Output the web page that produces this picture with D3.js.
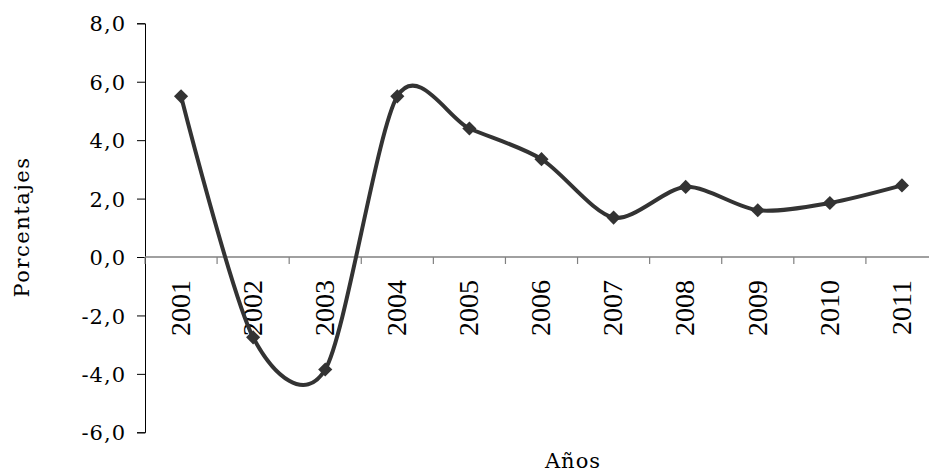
<!DOCTYPE html>
<html>
<head>
<meta charset="utf-8">
<script src="https://cdn.jsdelivr.net/npm/d3@7"></script>
<style>
  html, body { margin: 0; padding: 0; background: #fff; }
  svg { display: block; }
</style>
</head>
<body>
<svg id="chart" width="929" height="472"></svg>
<script>
const years = ["2001","2002","2003","2004","2005","2006","2007","2008","2009","2010","2011"];
const values = [5.5, -2.75, -3.85, 5.5, 4.4, 3.35, 1.35, 2.4, 1.6, 1.85, 2.45];
const yTicks = [-6, -4, -2, 0, 2, 4, 6, 8];
const yTitle = "Porcentajes";
const xTitle = "Años";

const svg = d3.select("#chart");
const x = d3.scaleBand().domain(years).range([145, 938]).padding(0);
const y = d3.scaleLinear().domain([-6, 8]).range([432.3, 23.3]);
const fmt = v => d3.format(".1f")(v).replace(".", ",").replace("−", "-");

// Y axis
const yAxis = d3.axisLeft(y).tickValues(yTicks).tickSize(8).tickPadding(0).tickFormat(fmt);
const gy = svg.append("g").attr("transform", "translate(145,0)").call(yAxis);
gy.select(".domain").attr("stroke", "#000").attr("stroke-width", 1);
gy.selectAll(".tick line").attr("stroke", "#000");
gy.selectAll(".tick text")
  .attr("x", -19)
  .attr("dy", "0.36em")
  .attr("font-family", "DejaVu Serif")
  .attr("font-size", 21)
  .attr("letter-spacing", 1)
  .attr("fill", "#000");

// X axis along zero line
const gx = svg.append("g").attr("transform", `translate(0,${y(0)})`);
gx.append("line")
  .attr("x1", 145).attr("x2", 938)
  .attr("stroke", "#808080").attr("stroke-width", 1.5);
const boundaries = years.map(d => x(d)).concat([x.range()[1]]);
gx.selectAll("line.tk").data(boundaries).join("line")
  .attr("class", "tk")
  .attr("x1", d => d).attr("x2", d => d)
  .attr("y1", 0).attr("y2", 7)
  .attr("stroke", "#808080").attr("stroke-width", 1.2);
gx.selectAll("text.yr").data(years).join("text")
  .attr("class", "yr")
  .attr("transform", d => `translate(${x(d) + x.bandwidth() / 2 - 1},${23}) rotate(-90)`)
  .attr("text-anchor", "end")
  .attr("dy", "0.35em")
  .attr("font-family", "Liberation Serif")
  .attr("font-size", 28)
  .attr("fill", "#000")
  .text(d => d);

// Line
const line = d3.line()
  .x((d, i) => x(years[i]) + x.bandwidth() / 2)
  .y(d => y(d))
  .curve(d3.curveCardinal.tension(0.15));
svg.append("path")
  .datum(values)
  .attr("d", line)
  .attr("fill", "none")
  .attr("stroke", "#333333")
  .attr("stroke-width", 4)
  .attr("stroke-linejoin", "round");

// Markers (diamonds)
const diamond = d3.symbol().type(d3.symbolSquare).size(100);
svg.selectAll("path.mk").data(values).join("path")
  .attr("class", "mk")
  .attr("d", diamond)
  .attr("transform", (d, i) => `translate(${x(years[i]) + x.bandwidth() / 2},${y(d)}) rotate(45)`)
  .attr("fill", "#333333");

// Titles
svg.append("text")
  .attr("transform", `translate(29,227) rotate(-90)`)
  .attr("text-anchor", "middle")
  .attr("font-family", "DejaVu Serif")
  .attr("font-size", 21)
  .attr("letter-spacing", 1.5)
  .attr("fill", "#000")
  .text(yTitle);
svg.append("text")
  .attr("x", 573).attr("y", 468)
  .attr("text-anchor", "middle")
  .attr("font-family", "DejaVu Serif")
  .attr("font-size", 21)
  .attr("letter-spacing", 1)
  .attr("fill", "#000")
  .text(xTitle);
</script>
</body>
</html>
